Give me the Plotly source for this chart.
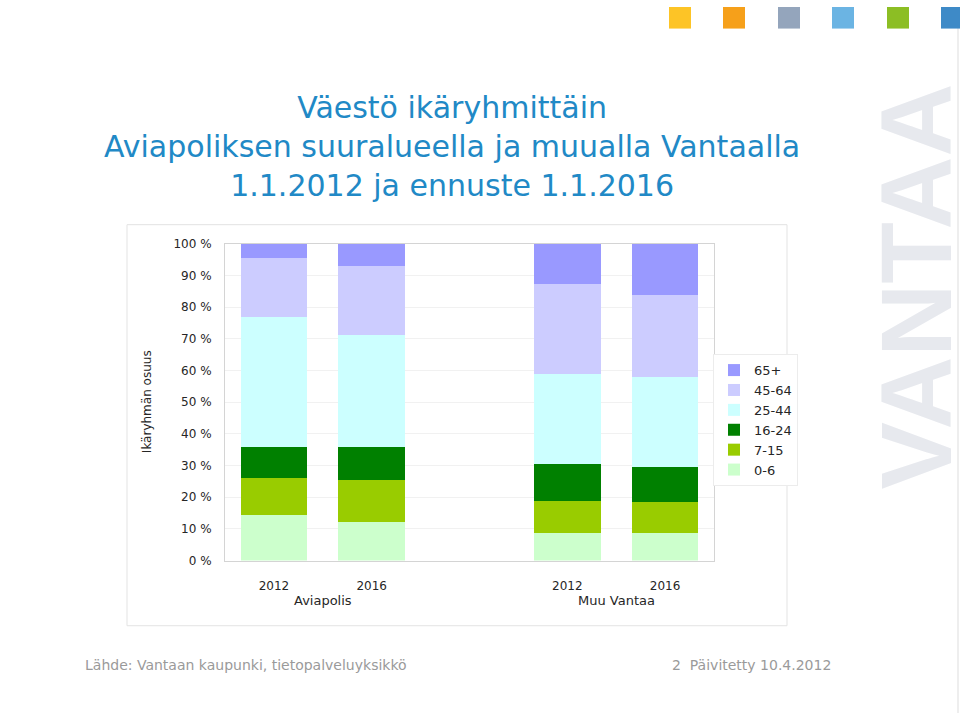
import plotly.graph_objects as go

# ---- data ----
groups = ["Aviapolis", "Muu Vantaa"]
years = ["2012", "2016"]
age_groups = ["0-6", "7-15", "16-24", "25-44", "45-64", "65+"]
# share (%) per age group, bars in order: Aviapolis 2012, Aviapolis 2016, Muu Vantaa 2012, Muu Vantaa 2016
share_0_6 = [14.4, 12.3, 8.6, 8.6]
share_7_15 = [11.7, 13.0, 10.3, 10.0]
share_16_24 = [9.6, 10.4, 11.6, 11.0]
share_25_44 = [41.1, 35.6, 28.4, 28.2]
share_45_64 = [18.8, 21.8, 28.3, 26.1]
share_65 = [4.4, 6.9, 12.8, 16.1]
y_ticks = [0, 10, 20, 30, 40, 50, 60, 70, 80, 90, 100]
y_tick_labels = [f"{v} %" for v in y_ticks]
title_lines = ["Väestö ikäryhmittäin", "Aviapoliksen suuralueella ja muualla Vantaalla", "1.1.2012 ja ennuste 1.1.2016"]
y_title = "Ikäryhmän osuus"
source_text = "Lähde: Vantaan kaupunki, tietopalveluyksikkö"
page_text = "2  Päivitetty 10.4.2012"
watermark = "VANTAA"
brand_colors = ["#FDC426", "#F6A01A", "#94A5BC", "#6BB4E3", "#8CBE24", "#3E8AC7"]

series = [share_0_6, share_7_15, share_16_24, share_25_44, share_45_64, share_65]
colors = ["#CCFFCC", "#99CC00", "#008000", "#CCFFFF", "#CCCCFF", "#9999FF"]

bar_keys = [f"{g}|{y}" for g in groups for y in years]
gap_key = "gap"
category_order = bar_keys[:2] + [gap_key] + bar_keys[2:]
tick_text = [k.split("|")[1] if k != gap_key else "" for k in category_order]

FONT = "DejaVu Sans"

fig = go.Figure()
for name, vals, col in zip(age_groups, series, colors):
    fig.add_trace(go.Bar(x=bar_keys, y=vals, name=name, marker=dict(color=col, line=dict(width=0)),
                         width=0.68))

W, H = 960, 720
x0, x1 = 225, 714
yt, yb = 241.5, 564.5

fig.update_layout(
    width=W, height=H, barmode="stack",
    margin=dict(l=0, r=0, t=0, b=0),
    paper_bgcolor="white", plot_bgcolor="white",
    font=dict(family=FONT, size=12, color="#262626"),
    showlegend=True,
    legend=dict(traceorder="reversed", x=713 / W, y=1 - 354 / H, xanchor="left", yanchor="top",
                bgcolor="white", bordercolor="#ececec", borderwidth=1,
                font=dict(family=FONT, size=13, color="#262626"),
                itemwidth=30, tracegroupgap=0),
    xaxis=dict(domain=[x0 / W, x1 / W], type="category", categoryorder="array",
               categoryarray=category_order, tickvals=category_order, ticktext=tick_text,
               range=[-0.5, len(category_order) - 0.5],
               showline=True, linecolor="#d4d4d4", linewidth=1, mirror=True,
               showgrid=False, ticks="", ticklabelstandoff=14,
               tickfont=dict(size=12, color="#262626")),
    yaxis=dict(domain=[1 - yb / H, 1 - yt / H], range=[0, 100], tickvals=y_ticks,
               ticktext=y_tick_labels, showline=True, linecolor="#d4d4d4", linewidth=1, mirror=True,
               showgrid=True, gridcolor="#f1f1f1", gridwidth=1, zeroline=False, ticks="",
               ticklabelstandoff=10, tickfont=dict(size=12, color="#262626")),
)

shapes = []
# chart area border
shapes.append(dict(type="rect", xref="paper", yref="paper", x0=127 / W, x1=787 / W,
                   y0=1 - 631 / H, y1=1 - 222 / H, line=dict(color="#e3e3e3", width=1), layer="below"))
# right-side thin vertical line
shapes.append(dict(type="line", xref="paper", yref="paper", x0=958 / W, x1=958 / W, y0=0, y1=1,
                   line=dict(color="#dddddd", width=1)))
# brand squares top right
sq_x = [669, 723, 778, 832, 887, 941]
for sx, c in zip(sq_x, brand_colors):
    shapes.append(dict(type="rect", xref="paper", yref="paper", x0=sx / W, x1=(sx + 22) / W,
                       y0=1 - 22 / H, y1=1, fillcolor=c, line=dict(width=0)))
fig.update_layout(shapes=shapes)

ann = []
# watermark
ann.append(dict(text=watermark, xref="paper", yref="paper", x=916 / W, y=1 - 285 / H,
                showarrow=False, textangle=-90, xanchor="center", yanchor="middle",
                font=dict(family="Liberation Sans", size=101, color="#e7e9ee", weight="bold")))
# title
ann.append(dict(text="<br>".join(title_lines), xref="paper", yref="paper", x=452 / W, y=1 - 142 / H,
                showarrow=False, xanchor="center", yanchor="middle", align="center",
                font=dict(family=FONT, size=30, color="#2189C6")))
# y axis title
ann.append(dict(text=y_title, xref="paper", yref="paper", x=147 / W, y=1 - 403 / H,
                showarrow=False, textangle=-90, xanchor="center", yanchor="middle",
                font=dict(family=FONT, size=12, color="#262626")))
# group labels under year ticks
for g in groups:
    idx = [category_order.index(k) for k in bar_keys if k.startswith(g + "|")]
    ann.append(dict(text=g, xref="x", yref="paper", x=sum(idx) / len(idx), y=1 - 605 / H,
                    showarrow=False, xanchor="center", yanchor="middle",
                    font=dict(family=FONT, size=13, color="#262626")))
# footer
ann.append(dict(text=source_text, xref="paper", yref="paper", x=83 / W, y=1 - 671 / H,
                showarrow=False, xanchor="left", yanchor="middle",
                font=dict(family=FONT, size=14, color="#9a9a9a")))
ann.append(dict(text=page_text, xref="paper", yref="paper", x=833 / W, y=1 - 671 / H,
                showarrow=False, xanchor="right", yanchor="middle",
                font=dict(family=FONT, size=14, color="#9a9a9a")))
fig.update_layout(annotations=ann)

post = ("document.documentElement.style.margin='0';document.documentElement.style.padding='0';"
        "document.documentElement.style.overflow='hidden';document.documentElement.style.height='720px';"
        "document.body.style.margin='0';document.body.style.padding='0';"
        "document.body.style.overflow='hidden';document.body.style.height='720px';")
fig.write_html("out.html", config={"displayModeBar": False}, post_script=post)
